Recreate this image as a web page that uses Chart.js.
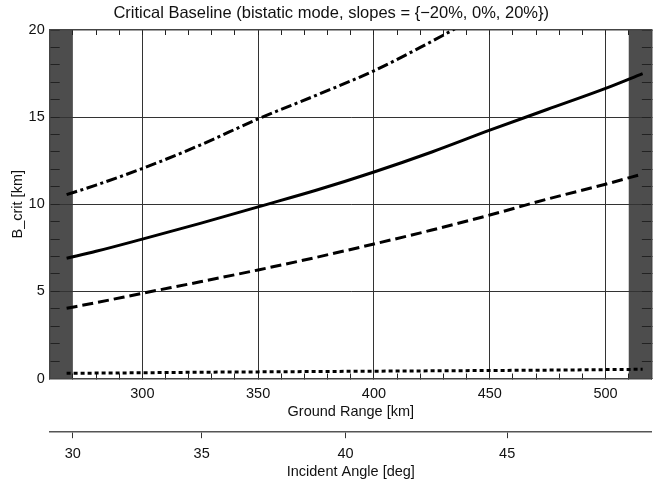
<!DOCTYPE html>
<html>
<head>
<meta charset="utf-8">
<script src="https://cdn.jsdelivr.net/npm/chart.js@4"></script>
<style>
  html, body { margin: 0; padding: 0; background: #fff; overflow: hidden; }
  #c { display: block; }
</style>
</head>
<body>
<canvas id="c" width="664" height="485" style="width:664px;height:485px"></canvas>
<script>
// ---- data ----
const titleText = 'Critical Baseline (bistatic mode, slopes = {\u221220%, 0%, 20%})';
const xTitle = 'Ground Range [km]';
const x2Title = 'Incident Angle [deg]';
const yTitle = 'B_crit [km]';

const groundRange = [267.3, 280, 300, 325, 350, 375, 400, 425, 450, 475, 500, 516];
const slopeZero   = [6.9, 7.3, 8.0, 8.9, 9.85, 10.8, 11.85, 13.0, 14.25, 15.45, 16.65, 17.5];
const slopePos    = [4.03, 4.35, 4.89, 5.55, 6.23, 6.95, 7.72, 8.52, 9.38, 10.3, 11.15, 11.74];
const slopeFlat   = [0.3, 0.31, 0.33, 0.36, 0.38, 0.4, 0.42, 0.44, 0.46, 0.48, 0.51, 0.53];

const groundRangeNeg = [267.3, 280, 300, 325, 350, 375, 400, 420, 434, 440];
const slopeNeg       = [10.55, 11.1, 12.05, 13.4, 14.9, 16.25, 17.66, 19.0, 20.0, 20.45];

const xMin = 260, xMax = 520, xStep = 10, xMajor = 50;
const yMin = 0, yMax = 20, yStep = 1, yMajor = 5;

const angleLabels = ['30', '35', '40', '45'];
const angleAtRange = [270, 325.6, 387.7, 457.5];   // ground range where each angle tick sits

const shadedRanges = [[260, 270], [510, 520]];

// ---- helpers ----
const FONT = 'Liberation Sans, Arial, sans-serif';
const pts = (xs, ys) => xs.map((x, i) => ({ x, y: ys[i] }));

const bandPlugin = {
  id: 'bands',
  beforeDraw(chart) {
    const { ctx, chartArea: a, scales } = chart;
    const xs = scales.x;
    ctx.save();
    ctx.fillStyle = '#4d4d4d';
    shadedRanges.forEach(([lo, hi]) => {
      const x0 = xs.getPixelForValue(lo), x1 = xs.getPixelForValue(hi);
      ctx.fillRect(x0, a.top, x1 - x0, a.bottom - a.top);
    });
    ctx.restore();
  }
};

const lineStyle = (dash) => ({
  borderColor: '#000', borderWidth: 3, borderDash: dash, borderCapStyle: 'butt',
  pointRadius: 0, fill: false, cubicInterpolationMode: 'monotone',
  xAxisID: 'x', yAxisID: 'y'
});

const isMajorX = v => { const r = Math.round(v); return r % xMajor === 0 && r > xMin && r < xMax; };
const isMajorY = v => { const r = Math.round(v); return r % yMajor === 0 && r > yMin && r < yMax; };

new Chart(document.getElementById('c'), {
  type: 'line',
  data: {
    datasets: [
      Object.assign({ label: '-20%', data: pts(groundRangeNeg, slopeNeg) }, lineStyle([11, 3.5, 3, 3.5])),
      Object.assign({ label: '0%', data: pts(groundRange, slopeZero) }, lineStyle([])),
      Object.assign({ label: '20%', data: pts(groundRange, slopePos) }, lineStyle([11, 5])),
      Object.assign({ label: 'flat', data: pts(groundRange, slopeFlat) }, lineStyle([4, 3]))
    ]
  },
  plugins: [bandPlugin],
  options: {
    responsive: false,
    animation: false,
    devicePixelRatio: 1,
    layout: { padding: { left: 0, right: 1.6, top: 0, bottom: 0 } },
    plugins: {
      legend: { display: false },
      tooltip: { enabled: false },
      title: {
        display: true, text: titleText, color: '#111',
        font: { family: FONT, size: 16.5, weight: 'normal' },
        padding: { top: 3.1, bottom: 7.1 }
      }
    },
    scales: {
      x: {
        type: 'linear', position: 'bottom', weight: 0,
        min: xMin, max: xMax,
        afterFit: s => { s.height = 53.2; },
        ticks: {
          stepSize: xStep, autoSkip: false, maxRotation: 0, padding: 12.1,
          color: '#111', font: { family: FONT, size: 14.5 },
          callback: v => (isMajorX(v) ? String(Math.round(v)) : '')
        },
        grid: {
          color: c => (c.tick && isMajorX(c.tick.value) ? '#333' : 'rgba(0,0,0,0)'),
          tickColor: '#222', tickLength: -5, lineWidth: 1
        },
        border: { display: true, color: '#444', width: 1.5 },
        title: {
          display: true, text: xTitle, color: '#111',
          font: { family: FONT, size: 14.5 }, padding: { top: 0, bottom: 11.3 }
        }
      },
      x2: {
        type: 'linear', position: 'bottom', weight: 1,
        min: xMin, max: xMax,
        afterFit: s => { s.height = 53.3; },
        afterBuildTicks: s => { s.ticks = angleAtRange.map(v => ({ value: v })); },
        ticks: {
          autoSkip: false, maxRotation: 0, padding: 7.4,
          color: '#111', font: { family: FONT, size: 14.5 },
          callback: (v, i) => angleLabels[i]
        },
        grid: { drawOnChartArea: false, color: '#333', tickColor: '#333', tickLength: 6.5, lineWidth: 1 },
        border: { display: true, color: '#555', width: 1.5 },
        title: {
          display: true, text: x2Title, color: '#111',
          font: { family: FONT, size: 14.5 }, padding: { top: 0, bottom: 4.0 }
        }
      },
      xt: {
        type: 'linear', position: 'top',
        min: xMin, max: xMax,
        afterFit: s => { s.height = 0; },
        ticks: { display: false, stepSize: xStep, autoSkip: false },
        grid: { drawOnChartArea: false, tickColor: '#222', tickLength: -5 },
        border: { display: true, color: '#444', width: 1.5 }
      },
      y: {
        type: 'linear', position: 'left',
        min: yMin, max: yMax,
        afterFit: s => { s.width = 49.7; },
        ticks: {
          stepSize: yStep, autoSkip: false, padding: 15,
          color: '#111', font: { family: FONT, size: 14.5 },
          callback: v => (Math.round(v) % yMajor === 0 ? String(Math.round(v)) : '')
        },
        grid: {
          color: c => (c.tick && isMajorY(c.tick.value) ? '#333' : 'rgba(0,0,0,0)'),
          tickColor: '#222', tickLength: -10, lineWidth: 1
        },
        border: { display: true, color: '#444', width: 1.5 },
        title: {
          display: true, text: yTitle, color: '#111',
          font: { family: FONT, size: 14.5 }, padding: { top: 9.0, bottom: 0 }
        }
      },
      yr: {
        type: 'linear', position: 'right',
        min: yMin, max: yMax,
        afterFit: s => { s.width = 0; },
        ticks: { display: false, stepSize: yStep, autoSkip: false },
        grid: { drawOnChartArea: false, tickColor: '#222', tickLength: -10 },
        border: { display: true, color: '#444', width: 1.5 }
      }
    }
  }
});
</script>
</body>
</html>
